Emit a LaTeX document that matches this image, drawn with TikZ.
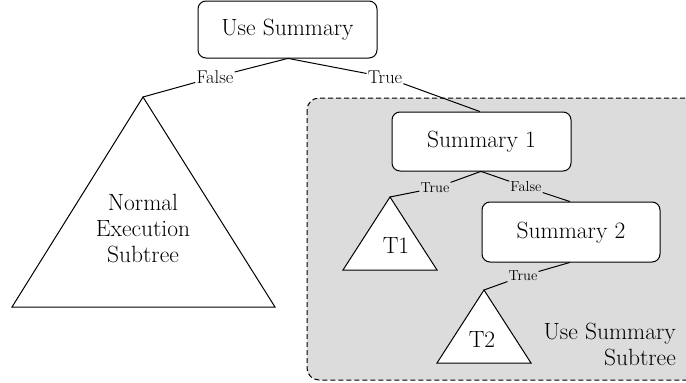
\documentclass[tikz,border=0pt]{standalone}
\begin{document}
\begin{tikzpicture}[x=1pt,y=-1pt,
  box/.style={draw,rounded corners=8pt,fill=white,line width=1pt},
  lbl/.style={inner sep=1pt,font=\fontsize{18.5}{20}\selectfont},
  slbl/.style={inner sep=1pt,font=\fontsize{14.5}{17}\selectfont},
  tri/.style={draw,fill=white,line width=1pt},
  big/.style={font=\fontsize{23.5}{26}\selectfont},
  edge/.style={line width=1pt}]
\useasboundingbox (0,0) rectangle (686,383);
\fill[white] (0,0) rectangle (686,383);
% shaded region
\draw[dash pattern=on 5pt off 3pt,fill={rgb,255:red,220;green,220;blue,220},rounded corners=12pt,line width=1pt] (307,98) rectangle (700,380);
% Use Summary
\draw[box] (198,1) rectangle (377,58);
\node[big] (us) at (287.5,30) {Use Summary};
\coordinate (usb) at (288,58.4);
\node[lbl] (f0) at (215,77) {False};
\node[lbl] (t0) at (385,77) {True};
% Normal triangle
\coordinate (na) at (143,97);
\draw[tri] (na) -- (12,307) -- (275,307) -- cycle;
\node[big,align=center] (nt) at (143,229) {Normal\\Execution\\Subtree};
% Summary 1
\draw[box] (392,112) rectangle (571,171);
\node[big] (s1) at (481.5,142) {Summary 1};
\coordinate (s1b) at (481,171.4);
\coordinate (s1t) at (480,111.6);
\node[slbl] (t1l) at (435,188) {True};
\node[slbl] (f1l) at (526,187) {False};
% T1
\coordinate (t1a) at (390,197);
\draw[tri] (t1a) -- (343,270) -- (437,270) -- cycle;
\node[big] (t1) at (396,246) {T1};
% Summary 2
\draw[box] (482,202) rectangle (660,262);
\node[big] (s2) at (571,232.5) {Summary 2};
\coordinate (s2t) at (570,201.6);
\coordinate (s2b) at (570,262.4);
\node[slbl] (t2l) at (523,276) {True};
% T2
\coordinate (t2a) at (484,290);
\draw[tri] (t2a) -- (437,363) -- (531,363) -- cycle;
\node[big] (t2) at (482,340) {T2};
% Use Summary Subtree label
\node[big,align=right,anchor=east,inner sep=0pt] (uss) at (676,344) {Use Summary\\Subtree};
% edges
\draw[edge] (usb) -- (f0) -- (na);
\draw[edge] (usb) -- (t0) -- (s1t);
\draw[edge] (s1b) -- (t1l) -- (t1a);
\draw[edge] (s1b) -- (f1l) -- (s2t);
\draw[edge] (s2b) -- (t2l) -- (t2a);
\end{tikzpicture}
\end{document}
